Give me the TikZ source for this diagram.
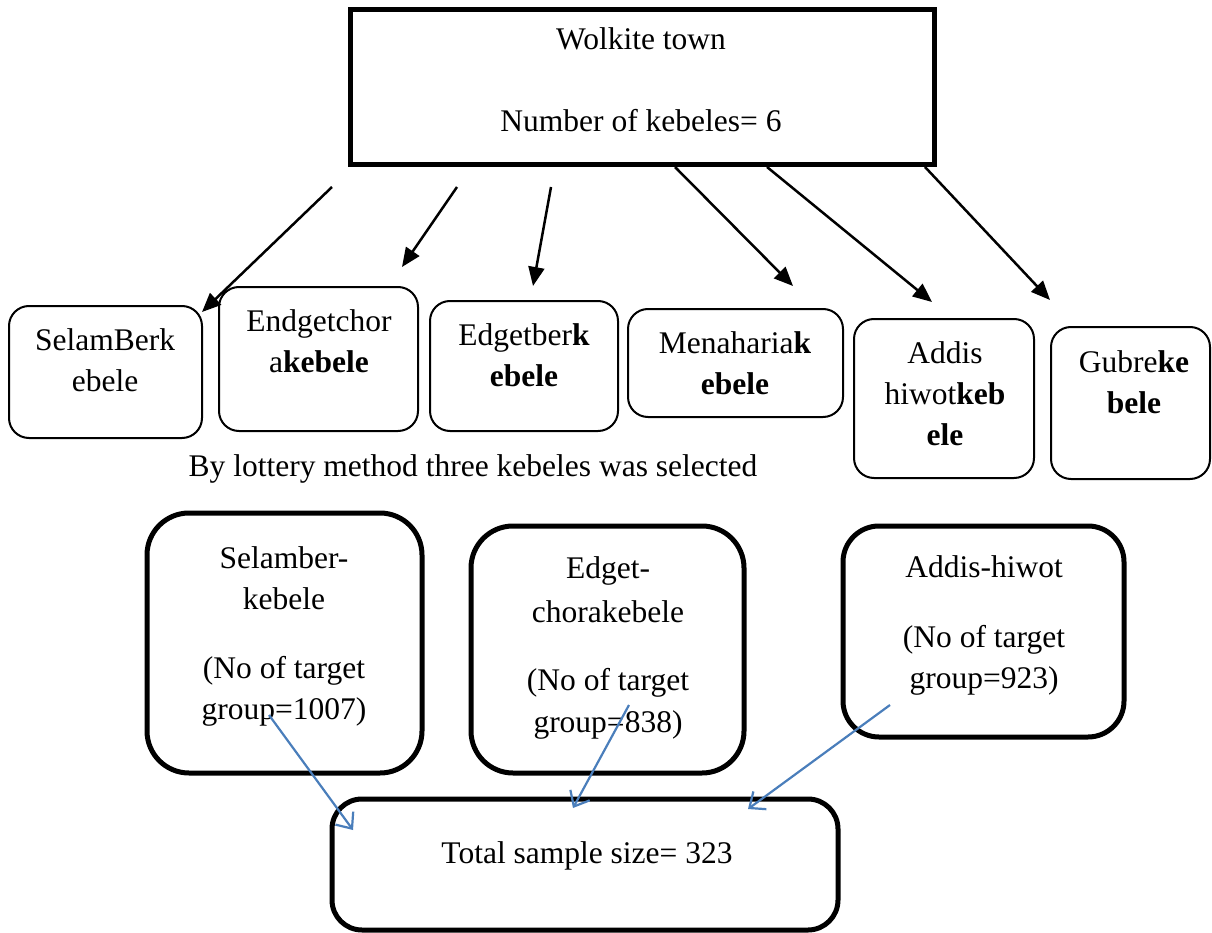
\documentclass[tikz,border=0pt]{standalone}
\usepackage{fontspec}
\setmainfont{Liberation Serif}
\usetikzlibrary{arrows.meta}
\definecolor{arrowblue}{RGB}{74,126,187}
\tikzset{
  topbox/.style={draw, line width=5pt, rectangle, inner sep=0pt},
  kbox/.style={draw, line width=2pt, rounded corners=20pt, inner sep=0pt},
  sbox/.style={draw, line width=5pt, rounded corners=42pt, inner sep=0pt},
  txt/.style={inner sep=0pt, anchor=base, font=\fontsize{31.5}{41}\selectfont},
  blackarrow/.style={line width=2.5pt, -{Triangle[length=19pt,width=16pt]}},
  bluearrow/.style={line width=2.2pt, draw=arrowblue, -{Straight Barb[length=13pt,width=22pt]}},
}
\newcommand{\lines}[1]{\begin{tabular}[t]{@{}c@{}}#1\end{tabular}}
\begin{document}
\begin{tikzpicture}[x=1pt,y=-1pt]
\useasboundingbox (0,0) rectangle (1212,933);
% top box
\node[topbox, minimum width=584pt, minimum height=155pt] (town) at (642,87.5) {};
\node[txt] (towntxt) at (641,50) {\lines{Wolkite town\\[41pt]Number of kebeles= 6}};
% kebele boxes
\node[kbox, minimum width=193pt, minimum height=132pt] (k1) at (105.5,372) {};
\node[kbox, minimum width=199pt, minimum height=144pt] (k2) at (318.5,359) {};
\node[kbox, minimum width=188pt, minimum height=130pt] (k3) at (524,366) {};
\node[kbox, minimum width=215pt, minimum height=108pt] (k4) at (735.5,363) {};
\node[kbox, minimum width=180pt, minimum height=159pt] (k5) at (944,398.5) {};
\node[kbox, minimum width=159pt, minimum height=152pt] (k6) at (1130.5,403) {};
\node[txt] (k1t) at (105,350) {\lines{SelamBerk\\ebele}};
\node[txt] (k2t) at (319,331) {\lines{Endgetchor\\a\textbf{kebele}}};
\node[txt] (k3t) at (524,345) {\lines{Edgetber\textbf{k}\\\textbf{ebele}}};
\node[txt] (k4t) at (735,353) {\lines{Menaharia\textbf{k}\\\textbf{ebele}}};
\node[txt] (k5t) at (945,363) {\lines{Addis\\hiwot\textbf{keb}\\\textbf{ele}}};
\node[txt] (k6t) at (1134,372) {\lines{Gubre\textbf{ke}\\\textbf{bele}}};
% black arrows
\coordinate (a1s) at (332,187); \coordinate (a1e) at (202,312);
\coordinate (a2s) at (457,187); \coordinate (a2e) at (402,267);
\coordinate (a3s) at (551,187); \coordinate (a3e) at (533,286);
\coordinate (a4s) at (675,167); \coordinate (a4e) at (793,286);
\coordinate (a5s) at (767,167); \coordinate (a5e) at (932,302);
\coordinate (a6s) at (925,167); \coordinate (a6e) at (1050,300);
\draw[blackarrow] (a1s) -- (a1e);
\draw[blackarrow] (a2s) -- (a2e);
\draw[blackarrow] (a3s) -- (a3e);
\draw[blackarrow] (a4s) -- (a4e);
\draw[blackarrow] (a5s) -- (a5e);
\draw[blackarrow] (a6s) -- (a6e);
% lottery text
\node[txt] (lottery) at (473,476) {By lottery method three kebeles was selected};
% selected boxes
\node[sbox, minimum width=275pt, minimum height=260pt] (s1) at (284.5,643) {};
\node[sbox, minimum width=273pt, minimum height=247pt] (s2) at (607.5,649.5) {};
\node[sbox, rounded corners=36pt, minimum width=281pt, minimum height=211pt] (s3) at (983.5,631.5) {};
\node[txt] (s1t) at (284,568) {\lines{Selamber-\\kebele\\[28pt](No of target\\group=1007)}};
\node[txt] (s2t) at (608,578) {\lines{Edget-\\[3pt]chorakebele\\[27pt](No of target\\[1pt]group=838)}};
\node[txt] (s3t) at (984,577) {\lines{Addis-hiwot\\[29pt](No of target\\group=923)}};
% total box
\node[sbox, rounded corners=30pt, minimum width=506pt, minimum height=131pt] (tot) at (585,864.5) {};
\node[txt] (tott) at (587,863) {Total sample size= 323};
% blue arrows
\coordinate (b1s) at (269,715); \coordinate (b1e) at (353,830);
\coordinate (b2s) at (629,705); \coordinate (b2e) at (573,808);
\coordinate (b3s) at (890,705); \coordinate (b3e) at (748,809);
\draw[bluearrow] (b1s) -- (b1e);
\draw[bluearrow] (b2s) -- (b2e);
\draw[bluearrow] (b3s) -- (b3e);
\end{tikzpicture}
\end{document}
